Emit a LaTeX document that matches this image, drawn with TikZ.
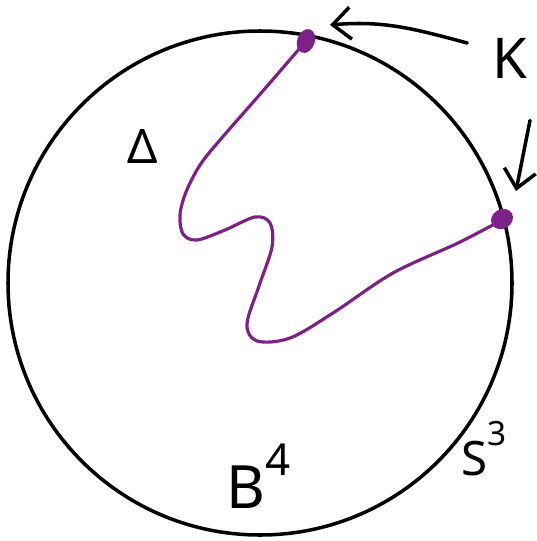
\documentclass[tikz,border=0pt]{standalone}
\usepackage{fontspec}
\setmainfont{Noto Sans}
\usetikzlibrary{arrows.meta, shapes.geometric}
\definecolor{kpurple}{HTML}{7D2088}
\definecolor{inkblack}{HTML}{000000}

\begin{document}
\begin{tikzpicture}[
  x=0.02cm, y=-0.02cm,
  >={Straight Barb[length=3.6mm, width=6.4mm, line width=2pt]},
  ink/.style={line width=2pt, inkblack, line cap=round, line join=round},
  arr/.style={ink, ->},
  knot/.style={line width=1.8pt, kpurple, line cap=round, line join=round},
  dot/.style={ellipse, fill=kpurple, inner sep=0pt},
  lbl/.style={inner sep=0pt, text=inkblack},
]

% Frame
\useasboundingbox (0,0) rectangle (537,541);

% === Ball and its boundary ===
\draw[ink] (260,283) circle[radius=252];

% === Slice disk boundary (the knot arc) ===
\draw[knot] plot[smooth, tension=0.55] coordinates {
  (306,41) (262,92) (220,140) (200,165) (186,192) (180,215)
  (183,234) (197,240) (225,230) (255,217) (270,223) (272,247)
  (259,286) (247,324) (257,341) (290,338) (333,313) (393,273)
  (458,243) (502,220)};

% Endpoints on the sphere
\node[dot, minimum width=10pt, minimum height=14pt, rotate=-20] (ktop) at (306,41) {};
\node[dot, minimum width=13pt, minimum height=11pt, rotate=30] (kright) at (502,219) {};

% === Labels ===
\node[lbl, font=\fontsize{32}{34}\selectfont] (klabel) at (510,58) {K};
\node[lbl, font=\fontsize{27}{30}\selectfont] (delta) at (143,146) {Δ};
\node[lbl, anchor=base west, font=\fontsize{34}{36}\selectfont] (ball) at (226,508)
  {B\raisebox{0.55em}{\fontsize{25}{26}\selectfont 4}};
\node[lbl, anchor=base west, font=\fontsize{27}{30}\selectfont] (sphere) at (461,475)
  {S\raisebox{0.62em}{\fontsize{19}{20}\selectfont 3}};

% === Arrows to the endpoints ===
\coordinate (ktip) at (330,25);
\coordinate (rtip) at (516,191);
\draw[arr] ([shift={(-25,-15)}]klabel.west) to[out=165, in=5] (ktip);
\draw[arr] ([shift={(20,42)}]klabel.south) -- (rtip);

\end{tikzpicture}
\end{document}
